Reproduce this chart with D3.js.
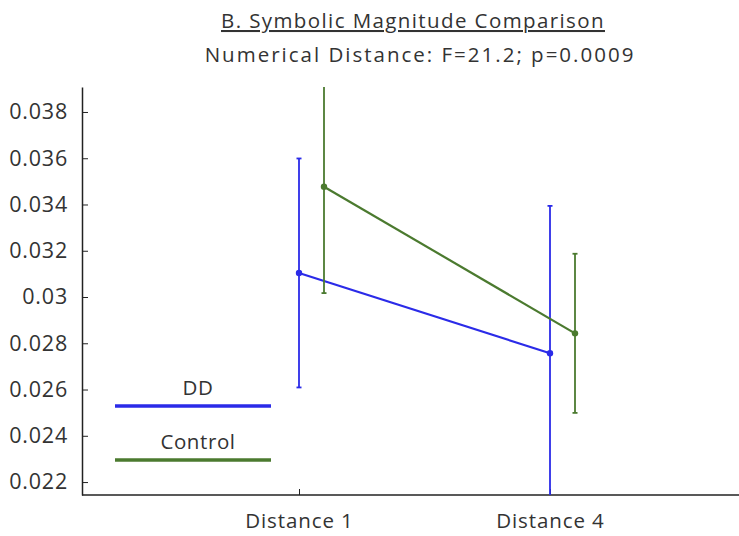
<!DOCTYPE html>
<html><head><meta charset="utf-8">
<script src="https://cdn.jsdelivr.net/npm/d3@7"></script>
<style>body{margin:0;background:#fff}text{font-family:"Open Sans","DejaVu Sans",sans-serif;fill:#333}</style>
</head><body><svg id="c" width="739" height="536"></svg>
<script>
const categories = ["Distance 1", "Distance 4"];
const groups = ["DD", "Control"];
const ddMean = [0.03104, 0.02757];
const ddErr = [0.00495, 0.00637];
const ctrlMean = [0.03477, 0.02843];
const ctrlErr = [0.0046, 0.00344];
const yTicks = [0.022, 0.024, 0.026, 0.028, 0.03, 0.032, 0.034, 0.036, 0.038];
const colors = {DD: "#2b2be8", Control: "#4b7a2f"};

const svg = d3.select("#c");
const mLeft = 82, mRight = 739, mTop = 87, mBottom = 495;
const y = d3.scaleLinear().domain([0.02144, 0.03908]).range([mBottom, mTop]);
const x = d3.scalePoint().domain(categories).range([299, 550]);
const offset = {DD: 0, Control: 25};
const FS = 20.5;

svg.append("defs").append("clipPath").attr("id","clip").append("rect")
  .attr("x", mLeft).attr("y", mTop).attr("width", mRight-mLeft).attr("height", mBottom-mTop);

// title
svg.append("text").attr("x", 413).attr("y", 28).attr("text-anchor","middle")
  .attr("font-size", FS).attr("letter-spacing", 1.4).attr("text-decoration","underline").text("B. Symbolic Magnitude Comparison");
svg.append("text").attr("x", 420).attr("y", 62).attr("text-anchor","middle")
  .attr("font-size", FS).attr("letter-spacing", 2).text("Numerical Distance: F=21.2; p=0.0009");

// y axis
const yAxis = svg.append("g").attr("transform", `translate(${mLeft},0)`)
  .call(d3.axisLeft(y).tickValues(yTicks).tickFormat(d => String(+d.toFixed(3))).tickSizeInner(-6).tickSizeOuter(0).tickPadding(14));
yAxis.select(".domain").attr("stroke","#222").attr("stroke-width",1.5);
yAxis.selectAll(".tick line").attr("stroke","#222");
yAxis.selectAll("text").attr("font-size",21.5).attr("letter-spacing",0.8).attr("fill","#333").attr("font-family","Open Sans, DejaVu Sans, sans-serif");

// x axis
const xAxis = svg.append("g").attr("transform", `translate(0,${mBottom})`)
  .call(d3.axisBottom(x).tickSizeInner(-6).tickSizeOuter(0).tickPadding(18));
xAxis.select(".domain").attr("d", `M${mLeft},0H${mRight}`).attr("stroke","#222").attr("stroke-width",1.5);
xAxis.selectAll(".tick line").attr("stroke","#222");
xAxis.selectAll("text").attr("font-size",FS).attr("fill","#333").attr("letter-spacing",0.9).attr("font-family","Open Sans, DejaVu Sans, sans-serif");

const series = [
  {name:"DD", mean: ddMean, err: ddErr},
  {name:"Control", mean: ctrlMean, err: ctrlErr}
];
const plot = svg.append("g").attr("clip-path","url(#clip)");
series.forEach(s => {
  const pts = categories.map((c,i) => ({x: x(c)+offset[s.name], m: s.mean[i], e: s.err[i]}));
  const col = colors[s.name];
  plot.append("path").datum(pts)
    .attr("d", d3.line().x(d=>d.x).y(d=>y(d.m)))
    .attr("fill","none").attr("stroke", col).attr("stroke-width", 2.2);
  pts.forEach(p => {
    plot.append("line").attr("x1",p.x).attr("x2",p.x).attr("y1",y(p.m-p.e)).attr("y2",y(p.m+p.e))
      .attr("stroke",col).attr("stroke-width",1.8);
    [p.m-p.e, p.m+p.e].forEach(v => plot.append("line").attr("x1",p.x-2.5).attr("x2",p.x+2.5)
      .attr("y1",y(v)).attr("y2",y(v)).attr("stroke",col).attr("stroke-width",1.8));
    plot.append("circle").attr("cx",p.x).attr("cy",y(p.m)).attr("r",3.2).attr("fill",col);
  });
});

// legend
groups.forEach((g,i) => {
  const ly = 406 + i*54;
  svg.append("text").attr("x",198).attr("y", ly-11).attr("text-anchor","middle").attr("font-size",FS).attr("letter-spacing",0.6).text(g);
  svg.append("line").attr("x1",115).attr("x2",271).attr("y1",ly).attr("y2",ly)
    .attr("stroke",colors[g]).attr("stroke-width",3.5);
});
</script></body></html>
